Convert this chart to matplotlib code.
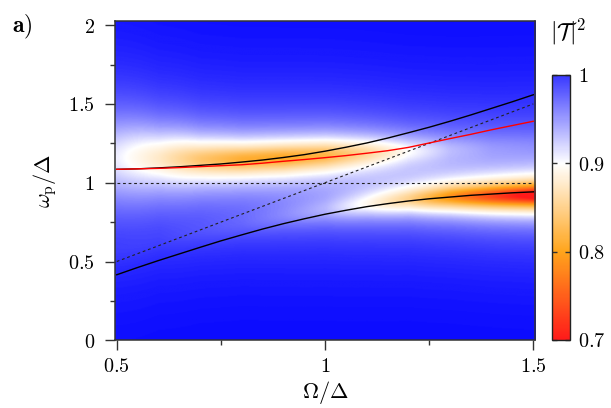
import numpy as np
import matplotlib
matplotlib.use("Agg")
import matplotlib.pyplot as plt
from matplotlib.colors import LinearSegmentedColormap, Normalize
import matplotlib.cm as cm

plt.rcParams['mathtext.fontset'] = 'cm'
plt.rcParams['font.family'] = ['DejaVu Serif']

# ---------------- data ----------------
# curve samples (Omega/Delta)
omega_c = [0.5, 0.55, 0.6, 0.65, 0.7, 0.75, 0.8, 0.85, 0.9, 0.95, 1.0,
           1.05, 1.1, 1.15, 1.2, 1.25, 1.3, 1.35, 1.4, 1.45, 1.5]
upper_branch = [1.085, 1.088, 1.094, 1.101, 1.110, 1.119, 1.131, 1.144, 1.160, 1.178, 1.200,
                1.225, 1.252, 1.283, 1.317, 1.352, 1.390, 1.430, 1.472, 1.514, 1.558]
lower_branch = [0.416, 0.462, 0.506, 0.548, 0.590, 0.631, 0.669, 0.706, 0.740, 0.771, 0.800,
                0.825, 0.848, 0.867, 0.884, 0.898, 0.909, 0.920, 0.928, 0.936, 0.942]
red_curve = [1.085, 1.088, 1.091, 1.096, 1.102, 1.108, 1.114, 1.124, 1.136, 1.147, 1.159,
             1.172, 1.187, 1.203, 1.224, 1.252, 1.280, 1.307, 1.336, 1.363, 1.390]

# transmission dips (per Omega column)
omega_d = [0.5, 0.6, 0.7, 0.8, 0.9, 1.0, 1.1, 1.2, 1.3, 1.4, 1.5]
up_center = [1.17, 1.155, 1.145, 1.145, 1.155, 1.17, 1.185, 1.2, 1.215, 1.23, 1.245]
up_depth = [0.06, 0.09, 0.13, 0.155, 0.16, 0.145, 0.105, 0.06, 0.03, 0.015, 0.01]
up_width = [0.25, 0.17, 0.12, 0.10, 0.095, 0.095, 0.095, 0.095, 0.095, 0.095, 0.095]
lo_center = [0.55, 0.62, 0.68, 0.73, 0.78, 0.82, 0.86, 0.89, 0.905, 0.91, 0.915]
lo_depth = [0.005, 0.005, 0.01, 0.015, 0.025, 0.04, 0.075, 0.12, 0.185, 0.24, 0.29]
lo_width = [0.10, 0.10, 0.10, 0.10, 0.10, 0.095, 0.09, 0.085, 0.08, 0.078, 0.075]
bg_depth = [0.035, 0.035, 0.035, 0.035, 0.035, 0.035, 0.035, 0.035, 0.035, 0.035, 0.035]
bg_center = 1.1
bg_width = 0.35

xticks = [0.5, 1.0, 1.5]
xticklabels = ['0.5', '1', '1.5']
yticks = [0, 0.5, 1.0, 1.5, 2.0]
yticklabels = ['0', '0.5', '1', '1.5', '2']
cbar_ticks = [0.7, 0.8, 0.9, 1.0]
cbar_ticklabels = ['0.7', '0.8', '0.9', '1']

# ---------------- build field ----------------
xs = np.linspace(0.495, 1.505, 400)
ys = np.linspace(0.0, 2.03, 500)
X, Y = np.meshgrid(xs, ys)

def col(arr):
    return np.interp(xs, omega_d, arr)[None, :]

def lor(c, w, a):
    return a / (1.0 + ((Y - c) / w) ** 2)

T = (1.0
     - lor(col(up_center), col(up_width), col(up_depth))
     - lor(col(lo_center), col(lo_width), col(lo_depth))
     - lor(bg_center, bg_width, col(bg_depth)))

cmap_field = LinearSegmentedColormap.from_list(
    'tr', [(0.0, '#ff1a1a'), (1/3, '#ffa51c'), (2/3, '#ffffff'), (1.0, '#0000ff')])
cmap_bar = LinearSegmentedColormap.from_list(
    'trb', [(0.0, '#ff1a1a'), (1/3, '#ffa51c'), (2/3, '#ffffff'), (1.0, '#3838ff')])
norm = Normalize(vmin=0.7, vmax=1.0)

# ---------------- figure ----------------
fig = plt.figure(figsize=(6.11, 4.08), dpi=100)
ax = fig.add_axes([0.1877, 0.1659, 0.6879, 0.7826])
ax.imshow(T, origin='lower', extent=[xs[0], xs[-1], ys[0], ys[-1]],
          aspect='auto', cmap=cmap_field, norm=norm, interpolation='bilinear')

ax.plot([0.5, 1.5], [1.0, 1.0], color='#222222', lw=0.8, ls=(0, (2.5, 2.5)))
ax.plot([0.5, 1.5], [0.5, 1.5], color='#222222', lw=0.8, ls=(0, (2.5, 2.5)))
ax.plot(omega_c, upper_branch, color='black', lw=1.0)
ax.plot(omega_c, lower_branch, color='black', lw=1.0)
ax.plot(omega_c, red_curve, color='#ff0000', lw=1.0)

ax.set_xlim(0.495, 1.504)
ax.set_ylim(0.0, 2.026)
ax.set_xticks(xticks)
ax.set_xticklabels(['$' + s + '$' for s in xticklabels])
ax.set_yticks(yticks)
ax.set_yticklabels(['$' + s + '$' for s in yticklabels])
ax.set_xticks([0.75, 1.25], minor=True)
ax.set_yticks([0.25, 0.75, 1.25, 1.75], minor=True)
ax.tick_params(which='major', direction='out', length=7.2, width=1.0, color='#333333',
               labelsize=14.5, pad=7)
ax.tick_params(axis='x', which='major', pad=5)
ax.tick_params(which='minor', direction='out', length=3.6, width=1.0, color='#333333')
for s in ax.spines.values():
    s.set_color('#333333')
    s.set_linewidth(1.1)

ax.set_xlabel(r'$\Omega/\Delta$', fontsize=16, labelpad=2)
ax.set_ylabel(r'$\omega_{\mathrm{p}}/\Delta$', fontsize=16, labelpad=7)

fig.text(0.02, 0.934, r'$\mathbf{a)}$', fontsize=17, ha='left', va='center')

cax = fig.add_axes([0.9034, 0.1667, 0.0295, 0.6495])
sm = cm.ScalarMappable(norm=norm, cmap=cmap_bar)
cb = fig.colorbar(sm, cax=cax)
cb.set_ticks(cbar_ticks)
cb.set_ticklabels(['$' + s + '$' for s in cbar_ticklabels])
cax.yaxis.set_ticks_position('both')
cax.tick_params(direction='in', length=3.5, width=1.0, color='#333333', labelsize=14.5,
                labelleft=False, labelright=True, pad=6)
cb.outline.set_linewidth(1.0)
cb.outline.set_edgecolor('#222222')
fig.text(0.9296, 0.9216, r'$|\mathcal{T}|^2$', fontsize=17, ha='center', va='center')

fig.savefig('out.png', dpi=100)
